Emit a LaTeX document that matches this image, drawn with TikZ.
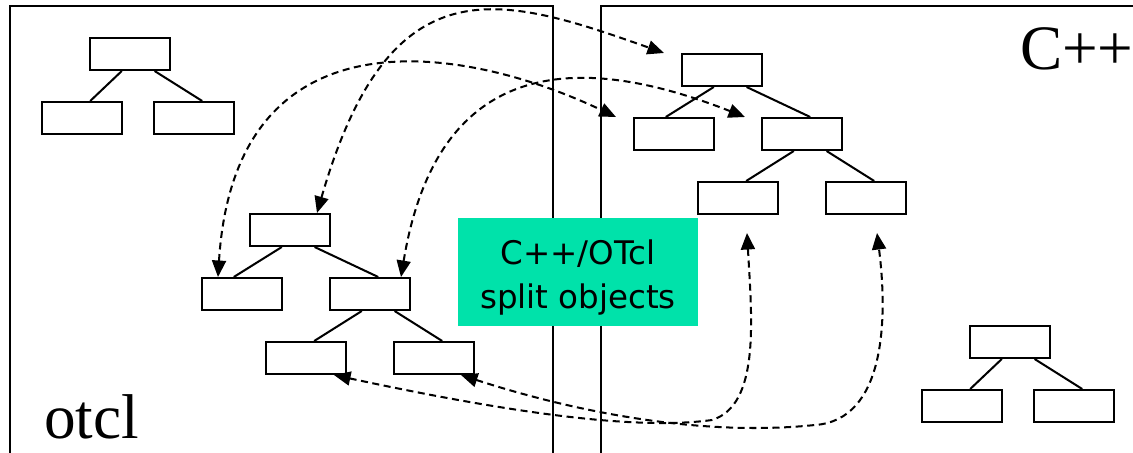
\documentclass[tikz,border=0pt]{standalone}
\usepackage{fontspec}
\usepackage{tikz}
\usetikzlibrary{arrows.meta,calc}
\setmainfont{Liberation Serif}
\newfontfamily\splitfont{DejaVu Sans}
\definecolor{SplitGreen}{RGB}{0,226,170}

\begin{document}
\begin{tikzpicture}[x=0.02cm, y=-0.02cm, line width=1.15pt]

      \tikzstyle{Obj}=[rectangle, draw=black, minimum width=1.6cm, minimum height=0.64cm, inner sep=0pt];
      \tikzstyle{Split}=[rectangle, fill=SplitGreen, minimum width=4.8cm, minimum height=2.16cm, align=center,
        font=\splitfont\fontsize{18.5}{25}\selectfont];
      \tikzstyle{Lang}=[anchor=base west, inner sep=0pt, font=\fontsize{36}{40}\selectfont];
      \tikzstyle{Lien}=[{Triangle[length=3.3mm,width=2.8mm]}-{Triangle[length=3.3mm,width=2.8mm]},
        dash pattern=on 4pt off 2.6pt];

        \useasboundingbox (0,0) rectangle (1133,453);
        \clip (0,0) rectangle (1133,453);

        % the two frames
        \draw (10,470) -- (10,6) -- (553,6) -- (553,470);
        \draw (601,470) -- (601,6) -- (1150,6);

        \node[Lang](otcl) at (43,438) {otcl};
        \node[Lang](cpp) at (1019,70) {C++};

        % otcl only
        \node[Obj](TclRoot) at (130,54) {};
        \node[Obj](TclA) at (82,118) {};
        \node[Obj](TclB) at (194,118) {};
        \draw ($(TclRoot.south west)!0.4!(TclRoot.south east)$) -- ($(TclA.north west)!0.6!(TclA.north east)$);
        \draw ($(TclRoot.south west)!0.8!(TclRoot.south east)$) -- ($(TclB.north west)!0.6!(TclB.north east)$);

        % otcl side of the split objects
        \node[Obj](OtRoot) at (290,230) {};
        \node[Obj](OtA) at (242,294) {};
        \node[Obj](OtB) at (370,294) {};
        \node[Obj](OtBA) at (306,358) {};
        \node[Obj](OtBB) at (434,358) {};
        \draw ($(OtRoot.south west)!0.4!(OtRoot.south east)$) -- ($(OtA.north west)!0.4!(OtA.north east)$);
        \draw ($(OtRoot.south west)!0.8!(OtRoot.south east)$) -- ($(OtB.north west)!0.6!(OtB.north east)$);
        \draw ($(OtB.south west)!0.4!(OtB.south east)$) -- ($(OtBA.north west)!0.6!(OtBA.north east)$);
        \draw ($(OtB.south west)!0.8!(OtB.south east)$) -- ($(OtBB.north west)!0.6!(OtBB.north east)$);

        % C++ side of the split objects
        \node[Obj](CcRoot) at (722,70) {};
        \node[Obj](CcA) at (674,134) {};
        \node[Obj](CcB) at (802,134) {};
        \node[Obj](CcBA) at (738,198) {};
        \node[Obj](CcBB) at (866,198) {};
        \draw ($(CcRoot.south west)!0.4!(CcRoot.south east)$) -- ($(CcA.north west)!0.4!(CcA.north east)$);
        \draw ($(CcRoot.south west)!0.8!(CcRoot.south east)$) -- ($(CcB.north west)!0.6!(CcB.north east)$);
        \draw ($(CcB.south west)!0.4!(CcB.south east)$) -- ($(CcBA.north west)!0.6!(CcBA.north east)$);
        \draw ($(CcB.south west)!0.8!(CcB.south east)$) -- ($(CcBB.north west)!0.6!(CcBB.north east)$);

        % C++ only
        \node[Obj](CxRoot) at (1010,342) {};
        \node[Obj](CxA) at (962,406) {};
        \node[Obj](CxB) at (1074,406) {};
        \draw ($(CxRoot.south west)!0.4!(CxRoot.south east)$) -- ($(CxA.north west)!0.6!(CxA.north east)$);
        \draw ($(CxRoot.south west)!0.8!(CxRoot.south east)$) -- ($(CxB.north west)!0.6!(CxB.north east)$);

        % links between both halves
        \draw[Lien] ($(OtRoot.north)+(27,0)$) .. controls (390,-40) and (500,-5) .. ($(CcRoot.north west)+(-17,0)$);
        \draw[Lien] ($(OtA.north west)+(17,0)$) .. controls (235,5) and (465,45) .. ($(CcA.north west)+(-17,0)$);
        \draw[Lien] ($(OtB.north east)+(-10,0)$) .. controls (440,40) and (600,60) .. ($(CcB.north west)+(-16,0)$);
        \draw[Lien] ($(OtBA.south east)+(-13,0)$) .. controls (520,415) and (640,430) .. (712,420)
          .. controls (760,405) and (752,320) .. ($(CcBA.south)+(9,18)$);
        \draw[Lien] ($(OtBB.south east)+(-14,0)$) .. controls (600,420) and (720,435) .. (815,425)
          .. controls (885,420) and (888,320) .. ($(CcBB.south)+(11,18)$);

        \node[Split](split) at (578,272) {\rule{0pt}{20.4pt}C++/OTcl\\split objects};

    \end{tikzpicture}
\end{document}
